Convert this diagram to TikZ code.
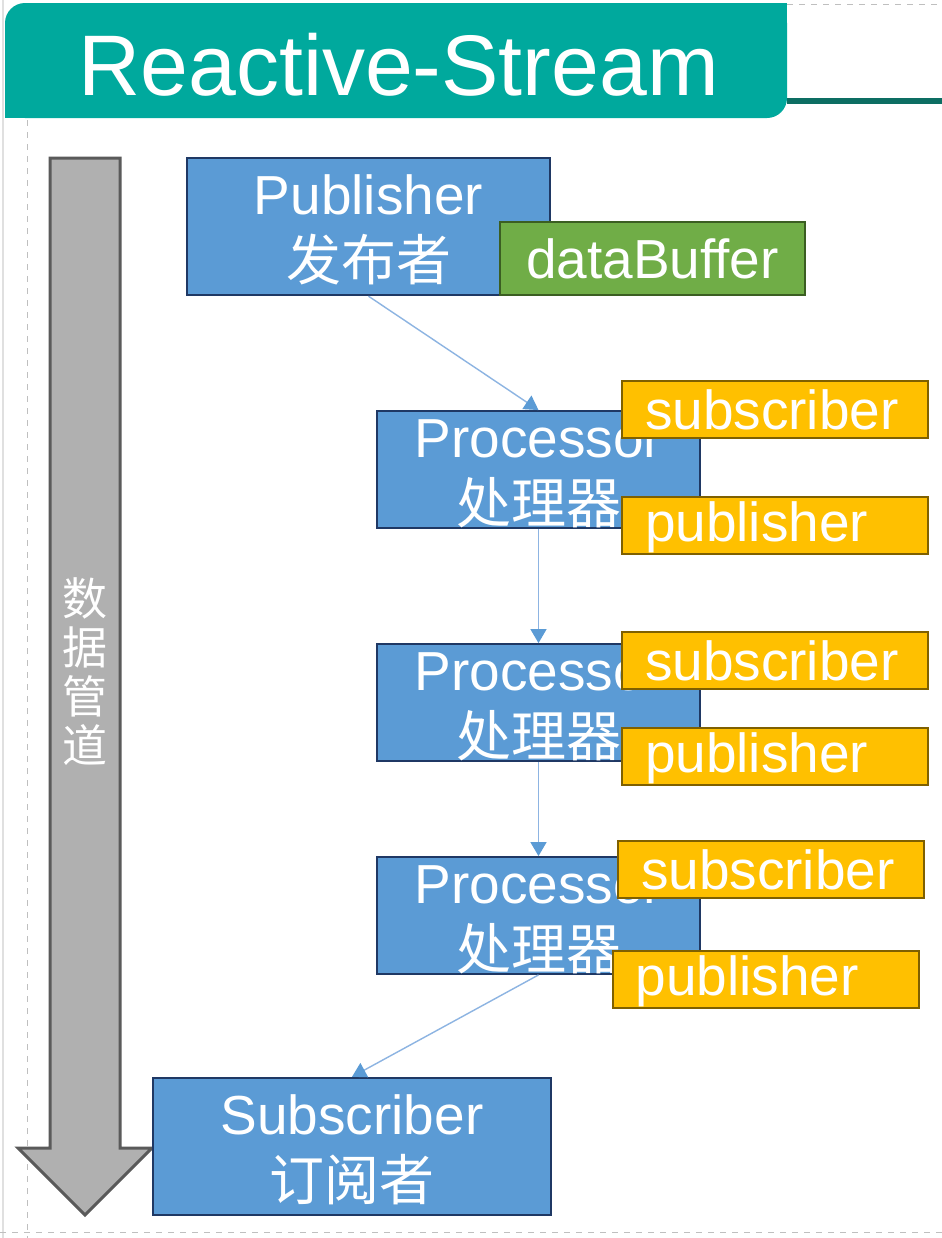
\documentclass[tikz,border=0pt]{standalone}
\usepackage{fontspec}
\setmainfont{Liberation Sans}
\newfontfamily\cjk{Noto Sans CJK SC}
\usetikzlibrary{arrows.meta}
\definecolor{hdr}{HTML}{00A99D}
\definecolor{hdrdark}{HTML}{0D6E63}
\definecolor{boxblue}{HTML}{5B9BD5}
\definecolor{boxborder}{HTML}{1F3864}
\definecolor{gfill}{HTML}{70AD47}
\definecolor{gbord}{HTML}{3B5E22}
\definecolor{yfill}{HTML}{FFC000}
\definecolor{ybord}{HTML}{7F6000}
\definecolor{lineblue}{HTML}{8DB4E2}
\definecolor{arrgray}{HTML}{B0B0B0}
\definecolor{arrbord}{HTML}{5A5A5A}
\newcommand\topstrut{\rule{0pt}{23pt}}
\tikzset{
  boxtext/.style={text=white, font=\fontsize{27.5}{33}\selectfont},
  bluebox/.style={boxtext, draw=boxborder, fill=boxblue, line width=1.2pt, align=center, inner sep=0pt},
  greenbox/.style={boxtext, draw=gbord, fill=gfill, line width=1.2pt, inner sep=0pt, minimum width=152.5pt, minimum height=36.5pt},
  yelbox/.style={boxtext, draw=ybord, fill=yfill, line width=1pt, minimum height=28.5pt, text width=130pt, align=left, inner xsep=11.5pt, inner ysep=0pt},
  yelpub/.style={yelbox, text depth=3.5pt},
  conn/.style={draw=lineblue, line width=0.7pt, -{Triangle[width=8pt,length=7pt,color=boxblue]}},
  guide/.style={draw=black!25, dashed, line width=0.5pt}
}
\begin{document}
\begin{tikzpicture}[x=0.5pt,y=-0.5pt]
\useasboundingbox (0,0) rectangle (942,1238);
\fill[white] (0,0) rectangle (942,1238);
% guides
\draw[black!12, line width=0.8pt] (3,0) -- (3,1238);
\draw[guide] (27,120) -- (27,1238);
\draw[guide] (0,1232) -- (942,1232);
\draw[guide] (787,4) -- (942,4);
% header
\fill[hdr, rounded corners=10pt] (5,3) rectangle (787,118);
\fill[hdr] (400,3) rectangle (787,60);
\fill[hdr] (5,60) rectangle (400,118);
\draw[hdrdark, line width=3pt] (787,101) -- (942,101);
\node[anchor=base west, inner sep=0pt, text=white, font=\fontsize{43}{50}\selectfont] (title) at (78,95) {Reactive-Stream};
% pipe arrow
\filldraw[fill=arrgray, draw=arrbord, line width=1.5pt, line join=miter]
  (50,158) -- (120,158) -- (120,1148) -- (152,1148) -- (85,1215) -- (18,1148) -- (50,1148) -- cycle;
\node[text=white, align=center, font=\cjk\fontsize{22.5}{24.5}\selectfont] (pipe) at (85,672) {数\\据\\管\\道};
% blue boxes
\node[bluebox, minimum width=181.5pt, minimum height=68.5pt] (pub) at (368.5,226.5) {\topstrut Publisher\\{\cjk 发布者}};
\node[greenbox] (buf) at (652.5,258.5) {dataBuffer};
\node[bluebox, minimum width=161.5pt, minimum height=57.5pt] (p1) at (538.5,469.5) {\topstrut Processor\\{\cjk 处理器}};
\node[bluebox, minimum width=161.5pt, minimum height=57.5pt] (p2) at (538.5,702.5) {\topstrut Processor\\{\cjk 处理器}};
\node[bluebox, minimum width=161.5pt, minimum height=57.5pt] (p3) at (538.5,915.5) {\topstrut Processor\\{\cjk 处理器}};
\node[bluebox, minimum width=199pt, minimum height=68.5pt] (sub) at (352,1146.5) {\topstrut Subscriber\\{\cjk 订阅者}};
% connectors
\draw[conn] (pub.south) -- (p1.north);
\draw[conn] (p1.south) -- (p2.north);
\draw[conn] (p2.south) -- (p3.north);
\draw[conn] (p3.south) -- (sub.north);
% yellow boxes
\node[yelbox] (s1) at (775,409.5) {subscriber};
\node[yelpub] (o1) at (775,525.5) {publisher};
\node[yelbox] (s2) at (775,660.5) {subscriber};
\node[yelpub] (o2) at (775,756.5) {publisher};
\node[yelbox] (s3) at (771,869.5) {subscriber};
\node[yelpub] (o3) at (765.5,979.5) {publisher};
\end{tikzpicture}
\end{document}
